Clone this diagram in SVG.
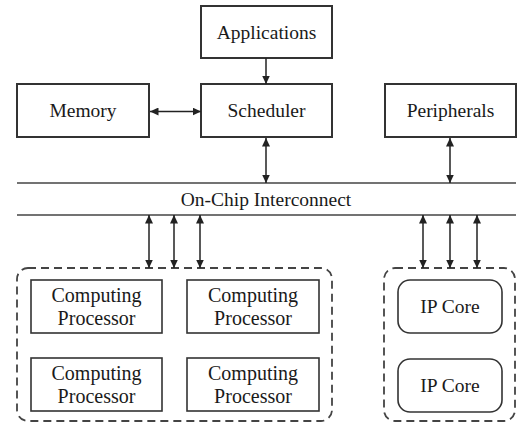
<svg xmlns="http://www.w3.org/2000/svg" width="518" height="423" viewBox="0 0 518 423" font-family="Liberation Serif">
  <style>
    .box { fill: #fff; stroke: #333; stroke-width: 2; }
    .group { fill: none; stroke: #444; stroke-width: 1.8; stroke-dasharray: 8 5; }
    .bus { stroke: #444; stroke-width: 1.5; }
    .link { stroke: #222; stroke-width: 1.5; fill: none; }
    text { font-size: 19.5px; fill: #1a1a1a; text-anchor: middle; }
    .cp { font-size: 20px; }
  </style>
  <defs>
    <marker id="arrow" viewBox="0 0 10 10" refX="10" refY="5" markerWidth="8.5" markerHeight="8" markerUnits="userSpaceOnUse" orient="auto-start-reverse" preserveAspectRatio="none">
      <path d="M0,0 L10,5 L0,10 z" fill="#222"/>
    </marker>
  </defs>

  <rect width="518" height="423" fill="#fff"/>

  <!-- interconnect bus -->
  <g id="interconnect">
    <line class="bus" x1="17" y1="183" x2="516" y2="183"/>
    <line class="bus" x1="17" y1="215" x2="516" y2="215"/>
    <text x="266" y="205.5" font-family="Liberation Serif">On-Chip Interconnect</text>
  </g>

  <g id="applications">
    <rect class="box" x="201" y="6" width="131" height="52"/>
    <text x="266.5" y="38.5" font-family="Liberation Serif">Applications</text>
  </g>
  <g id="memory">
    <rect class="box" x="17" y="84" width="132" height="53"/>
    <text x="83" y="117" font-family="Liberation Serif">Memory</text>
  </g>
  <g id="scheduler">
    <rect class="box" x="201" y="84" width="131" height="53"/>
    <text x="266.5" y="117" font-family="Liberation Serif">Scheduler</text>
  </g>
  <g id="peripherals">
    <rect class="box" x="385" y="84" width="131" height="53"/>
    <text x="450.5" y="117" font-family="Liberation Serif">Peripherals</text>
  </g>

  <!-- computing cluster -->
  <g id="computing-cluster" font-family="Liberation Serif">
    <rect class="group" x="17" y="268" width="315" height="153" rx="11"/>
    <g id="cp1">
      <rect class="box" x="31" y="280" width="131" height="53" style="stroke-width:1.6"/>
      <text class="cp" x="96.5" y="301.5" font-family="Liberation Serif">Computing</text>
      <text class="cp" x="96.5" y="325" font-family="Liberation Serif">Processor</text>
    </g>
    <g id="cp2">
      <rect class="box" x="187" y="280" width="132" height="53" style="stroke-width:1.6"/>
      <text class="cp" x="253" y="301.5" font-family="Liberation Serif">Computing</text>
      <text class="cp" x="253" y="325" font-family="Liberation Serif">Processor</text>
    </g>
    <g id="cp3">
      <rect class="box" x="31" y="358" width="131" height="53" style="stroke-width:1.6"/>
      <text class="cp" x="96.5" y="379.5" font-family="Liberation Serif">Computing</text>
      <text class="cp" x="96.5" y="403" font-family="Liberation Serif">Processor</text>
    </g>
    <g id="cp4">
      <rect class="box" x="187" y="358" width="132" height="53" style="stroke-width:1.6"/>
      <text class="cp" x="253" y="379.5" font-family="Liberation Serif">Computing</text>
      <text class="cp" x="253" y="403" font-family="Liberation Serif">Processor</text>
    </g>
  </g>

  <!-- IP core cluster -->
  <g id="ip-cluster">
    <rect class="group" x="384" y="268" width="131" height="153" rx="11"/>
    <g id="ip1">
      <rect class="box" x="398" y="280" width="104" height="53" rx="12" style="stroke-width:1.6"/>
      <text x="450" y="313" font-family="Liberation Serif">IP Core</text>
    </g>
    <g id="ip2">
      <rect class="box" x="398" y="359" width="104" height="53" rx="12" style="stroke-width:1.6"/>
      <text x="450" y="392" font-family="Liberation Serif">IP Core</text>
    </g>
  </g>

  <!-- connectors -->
  <g id="connectors">
    <line class="link" x1="266" y1="58" x2="266" y2="84" marker-end="url(#arrow)"/>
    <line class="link" x1="150" y1="111.5" x2="201" y2="111.5" marker-start="url(#arrow)" marker-end="url(#arrow)"/>
    <line class="link" x1="266" y1="138" x2="266" y2="183" marker-start="url(#arrow)" marker-end="url(#arrow)"/>
    <line class="link" x1="450" y1="138" x2="450" y2="183" marker-start="url(#arrow)" marker-end="url(#arrow)"/>
    <line class="link" x1="149" y1="215" x2="149" y2="268" marker-start="url(#arrow)" marker-end="url(#arrow)"/>
    <line class="link" x1="174" y1="215" x2="174" y2="268" marker-start="url(#arrow)" marker-end="url(#arrow)"/>
    <line class="link" x1="200" y1="215" x2="200" y2="268" marker-start="url(#arrow)" marker-end="url(#arrow)"/>
    <line class="link" x1="423" y1="215" x2="423" y2="268" marker-start="url(#arrow)" marker-end="url(#arrow)"/>
    <line class="link" x1="450" y1="215" x2="450" y2="268" marker-start="url(#arrow)" marker-end="url(#arrow)"/>
    <line class="link" x1="477" y1="215" x2="477" y2="268" marker-start="url(#arrow)" marker-end="url(#arrow)"/>
  </g>
</svg>
